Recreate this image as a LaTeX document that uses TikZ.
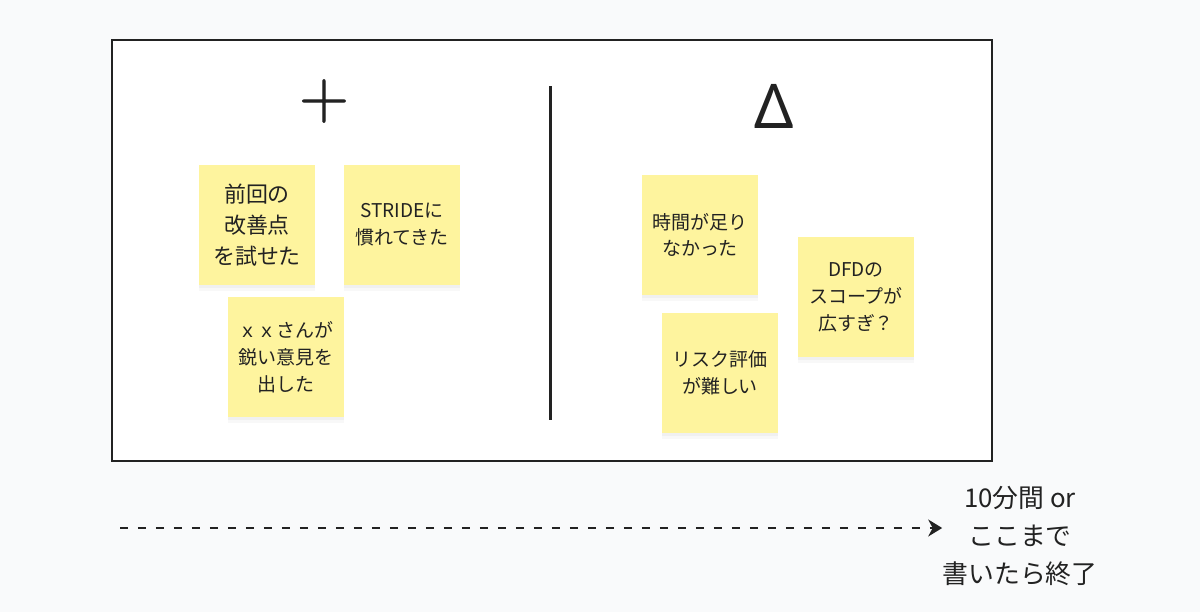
\documentclass[tikz,border=0pt]{standalone}
\usepackage{fontspec}
\setmainfont{Noto Sans CJK JP}
\newfontfamily\greekfont{Noto Sans}
\newfontfamily\plusfont[FakeBold=1.2]{Latin Modern Roman}
\usetikzlibrary{arrows.meta,shadows}

\definecolor{bgcol}{RGB}{249,250,251}
\definecolor{stickycol}{RGB}{254,244,158}
\definecolor{inkcol}{RGB}{34,34,34}

\begin{document}
\begin{tikzpicture}[x=0.02cm, y=-0.02cm, >=Stealth,
    every node/.style={text=inkcol},
    sticky/.style={fill=stickycol, minimum width=2.32cm, minimum height=2.4cm,
      inner sep=0pt, align=center,
      drop shadow={opacity=0.05, shadow xshift=0pt, shadow yshift=-3.5pt},
      drop shadow={opacity=0.06, shadow xshift=0pt, shadow yshift=-1.5pt},
      font=\fontsize{10.8}{15.3}\selectfont},
    bigsticky/.style={sticky, font=\fontsize{12.5}{17.6}\selectfont}]
    \fill[bgcol] (0,0) rectangle (1200,612);

    % board with the two columns
    \draw[line width=1.1pt, inkcol, fill=white] (112,40) rectangle (992,461);
    \draw[line width=1.7pt, inkcol] (550,86) -- (550,420);
    \node (plus) at (324,101) {\plusfont\fontsize{39}{39}\selectfont +};
    \node (delta) at (774,106) {\greekfont\fontsize{35}{35}\selectfont Δ};

    % + side
    \node[bigsticky] (retry) at (257,225) {前回の\\改善点\\を試せた};
    \node[sticky] (stride) at (402,225) {STRIDEに\\慣れてきた};
    \node[sticky] (opinion) at (286,357) {ｘｘさんが\\鋭い意見を\\出した};

    % delta side
    \node[sticky] (time) at (700,235) {時間が足り\\なかった};
    \node[sticky] (scope) at (856,297) {DFDの\\スコープが\\広すぎ？};
    \node[sticky] (risk) at (720,373) {リスク評価\\が難しい};

    % time line
    \node[align=center, inner sep=0pt, font=\fontsize{14.7}{21.5}\selectfont]
      (until) at (1020,536) {10分間 or\\ここまで\\書いたら終了};
    \coordinate (start) at (120,528);
    \draw[-{Stealth[length=0.28cm, width=0.34cm]}, dash pattern=on 0.16cm off 0.2cm,
      line width=1.1pt, inkcol] (start) -- (start -| until.west);
\end{tikzpicture}
\end{document}
